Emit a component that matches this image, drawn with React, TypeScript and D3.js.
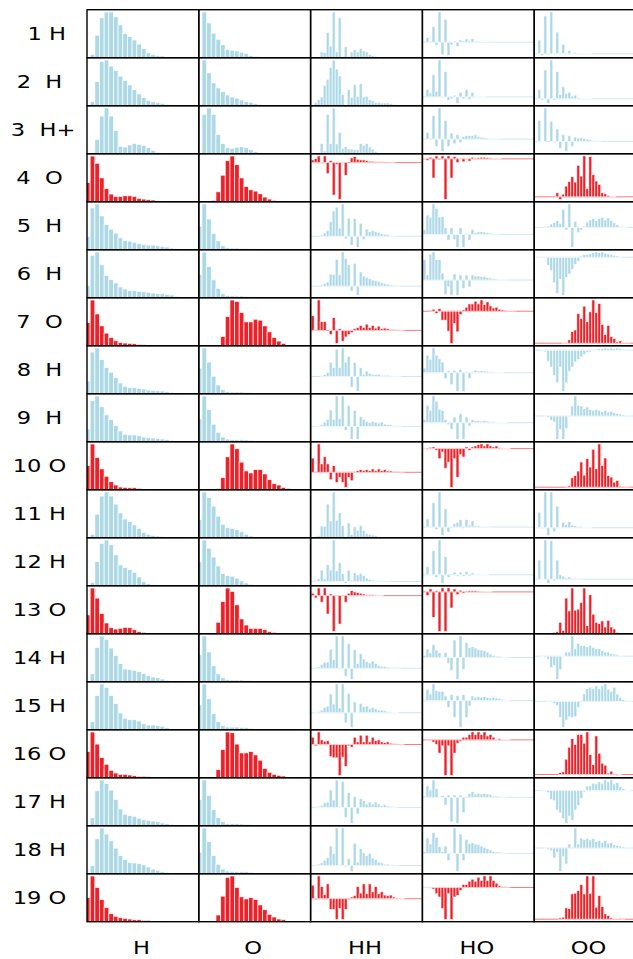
import React from 'react';
import * as d3 from 'd3';

// Row labels (site index + element) and column labels
const ROW_LABELS = [
  '  1 H', '2  H', ' 3  H+', '4  O', '5  H', '6  H', '7  O', '8  H', '9  H', '10 O',
  '11 H', '12 H', '13 O', '14 H', '15 H', '16 O', '17 H', '18 H', '19 O',
];
const ROW_ELEMENT = ['H', 'H', 'H', 'O', 'H', 'H', 'O', 'H', 'H', 'O', 'H', 'H', 'O', 'H', 'H', 'O', 'H', 'H', 'O'];
const COLUMN_LABELS = ['H', 'O', 'HH', 'HO', 'OO'];

// Single-species histograms (24 bins per panel, bin 0 partly outside the axes)
const H_COUNTS: number[][] = [
  [0, 10, 66, 117, 134, 134, 120, 96, 71, 62, 52, 40, 27, 14, 9, 6, 5, 2, 1],
  [0, 12, 72, 131, 136, 118, 105, 88, 75, 62, 48, 35, 24, 16, 12, 9, 7, 4, 2, 1],
  [0, 0, 42, 112, 136, 112, 69, 22, 20, 26, 30, 28, 25, 18, 10, 4, 2],
  [58, 138, 116, 72, 40, 23, 16, 16, 18, 18, 16, 10, 8, 6, 5, 2],
  [40, 126, 138, 102, 76, 62, 50, 36, 28, 26, 22, 18, 16, 14, 14, 12, 10, 8, 5, 3],
  [36, 126, 136, 98, 66, 54, 44, 32, 26, 21, 21, 19, 18, 16, 14, 12, 12, 10, 8, 4],
  [70, 138, 96, 60, 38, 25, 15, 10, 8, 7, 6, 4, 3, 2, 2, 1],
  [38, 124, 136, 102, 78, 64, 48, 32, 22, 18, 18, 16, 14, 11, 10, 9, 8, 6, 4, 2],
  [38, 122, 136, 104, 80, 66, 48, 32, 22, 20, 20, 18, 14, 12, 11, 10, 8, 6, 4, 2],
  [72, 136, 96, 62, 40, 24, 14, 8, 7, 6, 6, 4, 2, 1],
  [0, 10, 70, 124, 136, 124, 100, 74, 56, 48, 38, 28, 16, 10, 7, 5, 3, 1],
  [0, 10, 72, 126, 136, 122, 92, 62, 54, 48, 40, 26, 12, 6, 3, 2, 1],
  [56, 136, 106, 60, 32, 18, 14, 16, 19, 18, 12, 6, 4, 1],
  [0, 24, 102, 136, 126, 100, 78, 54, 38, 36, 34, 30, 24, 18, 14, 12, 8, 4, 1],
  [0, 24, 102, 136, 126, 102, 78, 50, 34, 30, 30, 26, 18, 14, 14, 12, 10, 6, 2],
  [78, 136, 100, 60, 40, 22, 14, 10, 10, 8, 6, 4, 4, 3, 2, 1],
  [0, 24, 104, 136, 126, 106, 78, 50, 34, 30, 28, 22, 18, 16, 14, 12, 8, 6, 4, 2],
  [0, 24, 104, 136, 118, 98, 76, 54, 42, 34, 32, 30, 26, 20, 14, 10, 6, 4, 2],
  [72, 136, 102, 66, 42, 24, 16, 12, 10, 8, 6, 6, 4, 4, 2, 1],
];

const O_COUNTS: number[][] = [
  [0, 134, 102, 72, 54, 38, 24, 22, 20, 16, 12, 6, 4, 2, 1],
  [0, 136, 98, 68, 53, 42, 32, 26, 22, 17, 12, 10, 6, 4, 2],
  [0, 117, 136, 117, 57, 30, 18, 16, 19, 21, 18, 12, 6, 3, 1],
  [0, 0, 0, 4, 30, 80, 124, 138, 112, 72, 46, 36, 32, 24, 14, 8, 4],
  [72, 140, 94, 50, 27, 12, 6, 5, 5, 4, 4, 3, 3, 2, 1],
  [70, 138, 94, 54, 28, 12, 7, 6, 5, 5, 4, 3, 3, 2, 1],
  [0, 0, 0, 0, 0, 28, 88, 138, 134, 100, 72, 72, 80, 77, 60, 42, 25, 14, 7, 2],
  [76, 136, 94, 52, 26, 12, 6, 5, 5, 5, 4, 3, 2, 1],
  [68, 136, 96, 52, 28, 14, 8, 6, 6, 6, 5, 4, 3, 2, 1],
  [0, 0, 0, 0, 4, 36, 98, 136, 122, 82, 56, 50, 60, 60, 47, 30, 18, 14, 7, 4, 2],
  [54, 136, 120, 94, 64, 40, 30, 28, 24, 18, 10, 5, 2],
  [70, 134, 110, 84, 58, 36, 30, 28, 22, 14, 8, 4, 1],
  [0, 0, 0, 2, 34, 96, 136, 126, 86, 44, 26, 16, 16, 16, 12, 6, 4, 1],
  [82, 138, 90, 48, 24, 12, 6, 5, 5, 5, 4, 3, 2, 1],
  [74, 136, 92, 48, 24, 12, 8, 8, 8, 7, 6, 4, 2, 1],
  [0, 0, 0, 0, 24, 84, 136, 134, 100, 74, 74, 78, 68, 52, 28, 16, 10, 7, 5, 2],
  [78, 136, 90, 48, 24, 12, 6, 6, 6, 5, 4, 3, 1],
  [64, 136, 96, 54, 28, 14, 8, 6, 6, 6, 6, 4, 2, 1],
  [0, 0, 0, 0, 20, 76, 132, 136, 102, 74, 68, 72, 66, 50, 36, 22, 14, 8, 6, 2],
];

// Pair terms (signed, 3 px bins starting just inside the axes)
const HH_WEIGHTS: number[][] = [
  [0, 0, 0, 17, 15, 74, 34, 134, 17, 117, 2, 32, 4, 17, 24, 17, 27, 20, 17, 9, 6, 4, 2, 1, 1],
  [0, 10, 18, 26, 60, 78, 113, 135, 108, 88, 33, 0, 48, 25, 62, 28, 65, 26, 28, 18, 15, 10, 10, 8, 8, 8, 6, 4, 2],
  [0, 0, 0, 30, 8, 117, 30, 136, 29, 64, 16, 21, 14, 14, 12, 12, 30, 25, 30, 20, 14, 7, 3, 1],
  [8, 12, 20, -2, 20, -33, 6, -97, -5, -110, -2, -38, 0, 14, 18, 10, 8, 8, 6, 4, 4, 3, 3, 3, 2, 2, 1, 1],
  [0, 0, 0, 4, 10, 18, 45, 78, 90, 25, 100, -8, 56, -28, 55, -35, 40, -10, 22, 14, 18, 14, 12, 8, 6, 5, 3, 2, 1],
  [0, 0, 0, 4, 8, 12, 36, 34, 80, 34, 102, 82, 64, -15, 68, -28, 42, 30, 26, 22, 18, 16, 14, 10, 8, 6, 4, 3, 2, 1],
  [45, 3, 93, 27, 27, 0, -13, 39, -40, 5, -33, -20, -13, -7, 5, 9, 15, 9, 19, 9, 15, 7, 13, 5, 7, 5, 3, 3, 2, 1, 1],
  [0, 0, 0, 2, 6, 12, 44, 28, 84, 28, 88, 44, 62, -33, 44, -46, 27, 6, 17, 10, 7, 6, 7, 4, 4, 4, 2, 2, 1, 1],
  [0, 2, 3, 6, 13, 21, 49, 21, 91, 23, 91, -12, 63, -39, 48, -39, 29, 21, 15, 11, 15, 13, 10, 13, 7, 5, 5, 3, 2, 1],
  [42, 2, 84, 25, 46, 25, -22, 20, -30, -15, -30, -45, -15, -25, 2, 5, 8, 5, 8, 5, 10, 5, 10, 5, 8, 4, 4, 2, 2, 1, 1],
  [0, 4, 6, 35, 34, 100, 50, 136, 52, 74, 36, 2, 44, 10, 32, 22, 36, 22, 12, 10, 8, 6, 3, 1],
  [0, 4, 8, 34, 8, 50, 34, 124, 32, 56, 24, -6, 34, 4, 26, 20, 24, 18, 10, 6, 4, 3, 2, 2, 1, 1],
  [7, -7, 23, -20, 23, -55, 5, -107, -2, -85, -2, -20, 7, 15, 11, 9, 7, 5, 3, 3, 3, 2, 1, 1],
  [0, 2, 4, 12, 18, 19, 58, 26, 98, 2, 98, -24, 74, -34, 56, 14, 44, 28, 20, 16, 22, 14, 8, 6, 6, 4, 3, 2, 1, 1],
  [0, 2, 4, 8, 16, 20, 56, 26, 86, 14, 86, -30, 58, -44, 32, 2, 28, 18, 20, 12, 16, 12, 8, 8, 6, 4, 3, 2, 1],
  [22, -4, 38, 14, 10, 12, -36, -40, -40, -93, -38, -66, -4, -8, 22, 8, 28, 8, 28, 8, 22, 12, 14, 8, 6, 8, 4, 3, 2, 1, 1],
  [0, 2, 3, 6, 14, 16, 52, 22, 82, 2, 78, -30, 44, -48, 32, -20, 26, 20, 10, 16, 10, 16, 10, 6, 8, 4, 2, 2, 1],
  [0, 2, 4, 8, 16, 24, 58, 36, 112, 2, 112, -4, 20, -18, 66, 10, 50, 38, 30, 36, 22, 18, 10, 8, 4, 4, 2, 2, 1],
  [41, -3, 69, 37, 13, 45, -33, -33, -63, -30, -63, -33, -3, 5, 10, 37, 17, 45, 15, 45, 21, 37, 15, 21, 11, 9, 11, 5, 3, 2, 1],
];

const HO_WEIGHTS: number[][] = [
  [0, 14, 3, 47, -10, 91, -38, 69, -40, -8, 3, -13, 7, 4, 10, 4, 10, 3, 3, 2, 2, 1, 1, 1],
  [0, 22, 12, 67, 17, 112, -2, 77, -10, -6, 5, -20, 14, -6, 22, -8, 14, 2, 2, 1, 1],
  [0, 20, 0, 70, -22, 93, -37, 56, -22, 18, -14, 13, -10, 8, 10, 11, 10, 13, 8, 6, 5, 3, 2, 2, 1],
  [2, -5, 5, -58, 9, -3, 9, -123, 9, -58, 7, -11, 2, -9, 2, -7, 5, 3, 4, 5, 5, 4, 3, 2, 2, 1],
  [14, 58, 51, 91, 78, 52, 53, 20, -17, 20, -16, -39, 20, -39, 2, -17, 15, 6, 8, 8, 7, 5, 4, 2, 1],
  [60, 15, 75, 82, 60, 60, 20, -42, -20, -45, 18, -45, 15, -25, 15, -20, 15, 12, 12, 10, 10, 8, 6, 4, 3, 2, 1, 1],
  [0, 0, 3, 6, -7, 8, -27, -27, -60, -97, -37, -62, -10, 4, 12, 22, 22, 30, 22, 34, 20, 28, 16, 10, 12, 6, 4, 3, 2, 2, 1],
  [14, 52, 40, 74, 52, 42, 32, -18, 6, -36, 7, -56, 10, -56, 4, -18, 4, 8, 5, 6, 5, 4, 3, 3, 2, 2, 1],
  [10, 52, 37, 80, 64, 40, 37, 10, -6, -20, 17, -50, 27, -50, 17, -10, 10, 6, 7, 5, 7, 5, 3, 4, 2, 2, 1, 1],
  [2, -2, 4, 5, -5, -30, -10, -58, -40, -115, -30, -85, -18, -25, 5, -5, 5, 8, 12, 14, 8, 14, 8, 5, 8, 3, 2, 1, 1],
  [0, 24, 2, 72, -7, 104, -25, 54, -15, 0, 10, 14, 22, -4, 22, 6, 18, 4, 4, 2, 2, 1, 1],
  [0, 24, 2, 72, -8, 104, -26, 54, -8, 0, 8, -4, 8, -5, 10, -4, 6, 2, 2, 1, 1, 1],
  [3, -11, 9, -76, 4, -118, 12, -118, 12, -48, 9, -8, 5, -4, 3, 4, 4, 4, 3, 2, 2, 1, 1],
  [6, 25, 14, 38, 22, 14, 2, 15, -18, -38, 52, -65, 64, -35, 44, 30, 32, 28, 24, 22, 20, 16, 10, 6, 4, 4, 2, 1, 1],
  [4, 34, 20, 50, 30, 28, 28, 14, -20, 18, -50, 15, -80, 18, -50, -16, 14, 10, 12, 10, 12, 10, 8, 10, 8, 6, 4, 2, 1],
  [0, -1, -2, -7, -14, -40, -18, -107, -18, -107, -40, -10, -4, 8, 8, 16, 24, 16, 24, 16, 24, 12, 16, 8, 2, 4, 2, 1, 1],
  [4, 34, 22, 52, 26, -2, 6, -23, 7, -73, 7, -78, 7, -46, 0, 12, 17, 10, 12, 10, 12, 10, 8, 4, 4, 3, 2, 1],
  [6, 46, 28, 62, 48, 20, 6, 22, -22, 2, 76, -54, 58, -22, 42, 30, 32, 28, 26, 22, 18, 14, 10, 6, 4, 4, 2, 1],
  [-1, -1, -2, -5, -19, -29, -64, -97, -19, -97, -29, -24, -9, 9, 9, 19, 25, 19, 31, 21, 35, 21, 35, 21, 13, 5, 3, 2, 1],
];

const OO_WEIGHTS: number[][] = [
  [0, 40, -5, 110, -3, 122, -2, 63, 3, 28, 3, 10, 2, 4, 2, 2, 1, 1, 1],
  [0, 28, -4, 86, -14, 116, -4, 81, 13, 36, 16, 20, 8, 11, 4, 2, 2, 1, 1],
  [0, 63, -2, 100, 0, 60, -3, 37, -20, 20, -30, 17, -15, 13, 10, 11, 9, 7, 5, 3, 2, 1],
  [0, 0, 0, 0, 0, 0, 0, 12, -8, 8, 32, 46, 60, 44, 94, 62, 122, 24, 120, 66, 47, 37, 12, 9, 4, 2, 1],
  [0, 0, 0, 2, 4, 10, 14, 20, 12, 54, -8, 70, -60, 18, -16, -8, 4, 16, 22, 26, 20, 26, 30, 22, 28, 20, 14, 8, 3, 2, 1],
  [-1, -1, -2, -3, -24, -40, -76, -108, -66, -114, -60, -50, -36, -22, -12, 4, 8, 8, 10, 14, 16, 14, 16, 12, 10, 8, 6, 4, 2, 1],
  [0, 0, 0, 0, 0, 0, 0, 0, 0, -1, 2, 10, 35, 40, 90, 75, 112, 65, 95, 131, 93, 120, 57, 26, 54, 20, 14, 4, 7, 2, 2, 1],
  [0, 0, -2, -5, -33, -50, -75, -97, -50, -123, -97, -63, -50, -35, -27, -20, -13, -7, -5, -2, 3, 5, 5, 7, 5, 7, 5, 7, 5, 3, 2, 1],
  [0, 0, 0, -2, -5, -13, -18, -70, -40, -70, -38, -3, 30, 60, 32, 30, 22, 27, 20, 17, 20, 17, 14, 17, 12, 14, 10, 8, 6, 4, 2, 1],
  [0, 0, 0, 0, 0, 0, 0, 0, 0, 0, 2, 4, 28, 35, 48, 75, 36, 85, 60, 113, 55, 129, 65, 87, 35, 30, 15, 20, 3, 1, -1, 1],
  [1, 46, -3, 106, -23, 106, -12, 64, 2, 16, 10, 18, 8, 6, 4, 4, 2, 2, 1],
  [0, 57, -2, 117, -13, 115, -5, 57, 13, 9, 4, 7, 3, 3, 2, 1],
  [0, 0, 0, 0, 0, 0, 4, 6, 34, 10, 106, 68, 136, 70, 73, 93, 136, 24, 116, 58, 34, 30, 38, 20, 40, 20, 14, 4, 2, 1],
  [0, 0, -2, -4, -9, -34, -28, -69, -40, -2, 12, 12, 60, 22, 38, 32, 32, 28, 32, 26, 22, 22, 16, 12, 12, 8, 6, 4, 2, 1],
  [0, 0, 0, 0, -2, -3, -6, -13, -48, -78, -56, -46, -48, -46, -18, -3, 22, 38, 42, 38, 46, 38, 46, 52, 36, 30, 42, 22, 12, 6, 2, 1],
  [0, 0, 0, 0, 0, 0, 0, 0, 6, 8, 46, 82, 108, 90, 120, 120, 94, 128, 60, 30, 116, 64, 34, 28, 4, 10, 2, -3, 1],
  [0, 0, -1, -3, -6, -26, -30, -58, -66, -83, -98, -76, -88, -58, -44, -24, -4, 14, 14, 22, 20, 26, 22, 32, 26, 32, 20, 24, 12, 6, 2, 1],
  [0, 0, 0, -2, -4, -8, -30, -13, -70, -26, -48, 12, 0, 60, 12, 30, 26, 28, 24, 28, 20, 22, 16, 22, 14, 16, 10, 8, 6, 4, 2, 1],
  [0, 0, 0, 0, 0, 0, 0, 0, 4, 6, 34, 32, 76, 78, 86, 104, 76, 130, 78, 130, 36, 71, 38, 16, 11, 4, 2, 2, 1, -1],
];

const COLUMN_SERIES = [H_COUNTS, O_COUNTS, HH_WEIGHTS, HO_WEIGHTS, OO_WEIGHTS];

const WIDTH = 633;
const HEIGHT = 959;
const GRID_LEFT = 87;
const GRID_TOP = 9.7;
const CELL_W = 111.8;
const CELL_H = 48;
const FONT = "'DejaVu Sans', sans-serif";
const TEXT_STRETCH = 1.22;
const COLORS: Record<string, string> = { H: '#add8e6', O: '#ee2129' };

export default function App() {
  const nRows = ROW_LABELS.length;
  const colX = d3.range(COLUMN_LABELS.length).map((c) => GRID_LEFT + c * CELL_W);
  const rowY = d3.range(nRows).map((r) => GRID_TOP + r * CELL_H);

  const panels: React.ReactNode[] = [];
  COLUMN_SERIES.forEach((series, c) => {
    const signed = c >= 2;
    const x0 = colX[c];
    // single-species histograms: 24 bins, bin 0 starts 0.32 bins left of the axis
    // pair terms: 3 px bins, first bin starts 0.2 bins right of the axis
    const x = signed
      ? d3.scaleLinear().domain([-0.2, -0.2 + CELL_W / 3]).range([x0, x0 + CELL_W])
      : d3.scaleLinear().domain([0.32, 24.32]).range([x0, x0 + CELL_W]);
    series.forEach((values, r) => {
      const top = rowY[r];
      const color = COLORS[ROW_ELEMENT[r]];
      const lo = d3.min(values) ?? 0;
      const hi = d3.max(values) ?? 0;
      const span = Math.max(hi, 0) - Math.min(lo, 0);
      const d0 = lo < 0 ? lo - 0.05 * span : 0;
      const d1 = hi > 0 ? hi + 0.05 * span : 0;
      const y = d3.scaleLinear().domain([d0, d1]).range([top + CELL_H, top]);
      panels.push(
        <g key={`p-${c}-${r}`} clipPath={`url(#clip-${c})`}>
          {signed && (
            <line x1={x0} x2={x0 + CELL_W} y1={y(0)} y2={y(0)} stroke={color} strokeOpacity={0.6} strokeWidth={1} />
          )}
          {values.map((v, k) =>
            v === 0 ? null : (
              <rect
                key={k}
                x={x(k)}
                width={x(k + 1) - x(k)}
                y={y(Math.max(0, v))}
                height={Math.abs(y(v) - y(0))}
                fill={color}
                stroke="#ffffff"
                strokeWidth={signed ? 0.8 : 0.9}
                strokeOpacity={0.8}
              />
            )
          )}
        </g>
      );
    });
  });

  return (
    <svg
      width={WIDTH}
      height={HEIGHT}
      style={{ position: 'absolute', left: 0, top: 0, background: '#ffffff' }}
    >
      <defs>
        {colX.map((cx, c) => (
          <clipPath id={`clip-${c}`} key={c}>
            <rect x={cx} y={0} width={CELL_W} height={HEIGHT} />
          </clipPath>
        ))}
      </defs>
      <rect x={0} y={0} width={WIDTH} height={HEIGHT} fill="#ffffff" />
      {panels}
      {colX.map((cx, c) =>
        rowY.map((ry, r) => (
          <rect
            key={`f-${c}-${r}`}
            x={cx}
            y={ry}
            width={CELL_W}
            height={CELL_H}
            fill="none"
            stroke="#000000"
            strokeWidth={1.4}
          />
        ))
      )}
      {ROW_LABELS.map((label, r) => (
        <text
          key={`rl-${r}`}
          transform={`translate(39.5, ${rowY[r] + CELL_H / 2 + 6.6}) scale(${TEXT_STRETCH}, 1)`}
          textAnchor="middle"
          fontFamily={FONT}
          fontSize={18.5}
          fill="#000000"
          xmlSpace="preserve"
          style={{ whiteSpace: 'pre' }}
        >
          {label}
        </text>
      ))}
      {COLUMN_LABELS.map((label, c) => (
        <text
          key={`cl-${c}`}
          transform={`translate(${colX[c] + CELL_W / 2 - 1.5}, 954) scale(${TEXT_STRETCH}, 1)`}
          textAnchor="middle"
          fontFamily={FONT}
          fontSize={18.5}
          fill="#000000"
        >
          {label}
        </text>
      ))}
    </svg>
  );
}
